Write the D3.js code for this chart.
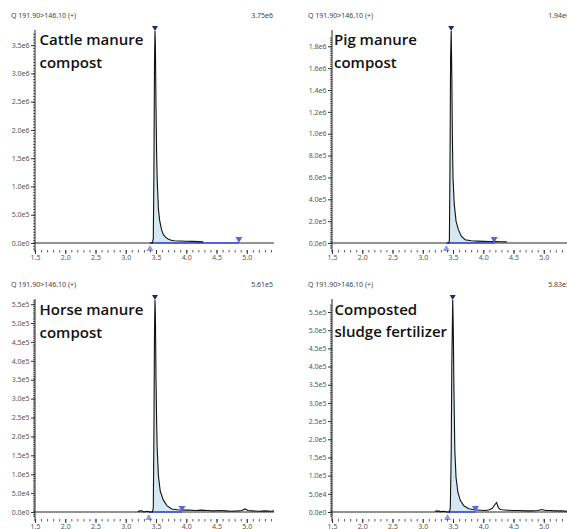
<!DOCTYPE html>
<html><head><meta charset="utf-8">
<script src="https://cdn.jsdelivr.net/npm/d3@7"></script>
<style>
html,body{margin:0;padding:0;background:#fff;}
svg{display:block;font-family:"Noto Sans",sans-serif;}
</style></head>
<body>
<svg id="c" width="567" height="529"></svg>
<script>
// ---- data ----
const panelNames = ["Cattle manure|compost", "Pig manure|compost", "Horse manure|compost", "Composted|sludge fertilizer"];
const headerText = "Q 191.90>146.10 (+)";
const maxLabels = ["3.75e6", "1.94e6", "5.61e5", "5.83e5"];
const maxValues = [3.75e6, 1.94e6, 5.61e5, 5.83e5];
const yTicks1 = [0, 5e5, 1e6, 1.5e6, 2e6, 2.5e6, 3e6, 3.5e6];
const yTicks2 = [0, 2e5, 4e5, 6e5, 8e5, 1e6, 1.2e6, 1.4e6, 1.6e6, 1.8e6];
const yTicks3 = [0, 5e4, 1e5, 1.5e5, 2e5, 2.5e5, 3e5, 3.5e5, 4e5, 4.5e5, 5e5, 5.5e5];
const yTicks4 = [0, 5e4, 1e5, 1.5e5, 2e5, 2.5e5, 3e5, 3.5e5, 4e5, 4.5e5, 5e5, 5.5e5];
const xTicks = [1.5, 2.0, 2.5, 3.0, 3.5, 4.0, 4.5, 5.0];

const cattleTime = [3.40, 3.44, 3.455, 3.465, 3.475, 3.483, 3.49, 3.50, 3.51, 3.52, 3.54, 3.56, 3.59, 3.62, 3.66, 3.70, 3.75, 3.80, 3.90, 4.00, 4.10, 4.20, 4.28];
const cattleInt = [0, 0, 0.08e6, 1.2e6, 3.2e6, 3.75e6, 3.5e6, 2.4e6, 1.6e6, 1.1e6, 0.6e6, 0.4e6, 0.24e6, 0.15e6, 0.1e6, 0.07e6, 0.05e6, 0.04e6, 0.035e6, 0.03e6, 0.028e6, 0.025e6, 0.02e6];

const pigTime = [3.40, 3.43, 3.44, 3.45, 3.46, 3.47, 3.48, 3.49, 3.50, 3.52, 3.55, 3.59, 3.64, 3.70, 3.80, 3.90, 4.00, 4.10, 4.20, 4.30, 4.39];
const pigInt = [0, 0, 0.02e6, 0.7e6, 1.7e6, 1.94e6, 1.55e6, 0.95e6, 0.6e6, 0.36e6, 0.2e6, 0.12e6, 0.06e6, 0.03e6, 0.02e6, 0.017e6, 0.015e6, 0.014e6, 0.013e6, 0.012e6, 0.01e6];

const horseTime = [3.20, 3.25, 3.30, 3.35, 3.40, 3.44, 3.455, 3.465, 3.475, 3.483, 3.49, 3.50, 3.51, 3.52, 3.54, 3.57, 3.62, 3.68, 3.76, 3.85, 3.95, 4.05, 4.15, 4.25, 4.35, 4.45, 4.55, 4.65, 4.75, 4.85, 4.92, 4.97, 5.02, 5.10, 5.20, 5.30, 5.40, 5.45];
const horseInt = [1e3, 4e3, 0, 2e3, 0, 0, 1e4, 2.0e5, 4.8e5, 5.61e5, 5.2e5, 3.5e5, 2.4e5, 1.65e5, 0.95e5, 0.55e5, 0.32e5, 0.17e5, 0.8e4, 0.6e4, 0.5e4, 0.5e4, 0.4e4, 0.5e4, 0.4e4, 0.3e4, 0.4e4, 0.3e4, 0.2e4, 0.3e4, 0.4e4, 0.8e4, 0.4e4, 0.3e4, 0.2e4, 0.3e4, 0.2e4, 0.3e4];

const sludgeTime = [3.20, 3.25, 3.30, 3.35, 3.40, 3.44, 3.455, 3.47, 3.48, 3.495, 3.505, 3.515, 3.53, 3.55, 3.58, 3.62, 3.68, 3.76, 3.85, 3.95, 4.05, 4.10, 4.15, 4.19, 4.22, 4.25, 4.28, 4.32, 4.40, 4.50, 4.60, 4.70, 4.80, 4.90, 4.97, 5.03, 5.10, 5.20, 5.30, 5.40, 5.45];
const sludgeInt = [2e3, 3e3, 1e3, 2e3, 0, 0, 1e4, 1.6e5, 4.0e5, 5.83e5, 5.0e5, 3.4e5, 1.7e5, 0.95e5, 0.55e5, 0.32e5, 0.17e5, 0.9e4, 0.6e4, 0.5e4, 0.4e4, 0.6e4, 1.0e4, 2.0e4, 2.6e4, 1.2e4, 0.7e4, 0.6e4, 0.5e4, 0.4e4, 0.4e4, 0.3e4, 0.3e4, 0.4e4, 0.7e4, 0.4e4, 0.4e4, 0.3e4, 0.3e4, 0.2e4, 0.3e4];

const peakStart = [3.40, 3.39, 3.38, 3.41];
const peakEnd = [4.87, 4.18, 3.93, 3.87];

// ---- layout ----
const times = [cattleTime, pigTime, horseTime, sludgeTime];
const ints = [cattleInt, pigInt, horseInt, sludgeInt];
const yTickSets = [yTicks1, yTicks2, yTicks3, yTicks4];
const offX = [0, 297, 0, 297], offY = [0, 0, 269, 269];
const labelX = [39.5, 37, 39.5, 37.5];
const labelY = [45, 45, 46, 45.5];

const svg = d3.select("#c");
const fmt = v => v.toExponential(1).replace("+", "");

for (let p = 0; p < 4; p++) {
  const g = svg.append("g").attr("transform", `translate(${offX[p]},${offY[p]})`);
  const x = d3.scaleLinear().domain([1.5, 5.45]).range([35, 274]);
  const y = d3.scaleLinear().domain([0, maxValues[p]]).range([243, 31]);
  const data = times[p].map((t, i) => ({t, v: ints[p][i]}));

  // header
  g.append("text").attr("x", 11).attr("y", 18).attr("font-size", 7).attr("fill", "#444").text(headerText);
  g.append("text").attr("x", 273).attr("y", 18).attr("font-size", 7).attr("fill", "#444").attr("text-anchor", "end").text(maxLabels[p]);

  // fill area
  const s = peakStart[p], e = peakEnd[p];
  const fillData = data.filter(d => d.t >= s && d.t <= e);
  const lastT = fillData[fillData.length - 1].t;
  if (lastT < e) fillData.push({t: e, v: 0});
  fillData.unshift({t: s, v: 0});
  g.append("path").datum(fillData)
    .attr("d", d3.area().x(d => x(d.t)).y0(y(0)).y1(d => y(d.v)))
    .attr("fill", "#d3e8f1");

  // zero line
  g.append("line").attr("x1", 33).attr("x2", x(5.45)).attr("y1", y(0)).attr("y2", y(0))
    .attr("stroke", "#6e6e6e").attr("stroke-width", 1.5);

  // integration baseline
  g.append("line").attr("x1", x(s)).attr("x2", x(e)).attr("y1", y(0)).attr("y2", y(0))
    .attr("stroke", "#3f55e6").attr("stroke-width", 1.5);

  // trace
  g.append("path").datum(data)
    .attr("d", d3.line().x(d => x(d.t)).y(d => y(d.v)))
    .attr("fill", "none").attr("stroke", "#111").attr("stroke-width", 1.1);

  // markers
  const apexIdx = d3.maxIndex(data, d => d.v);
  const ax = x(data[apexIdx].t), ay = y(data[apexIdx].v);
  g.append("path").attr("d", `M${ax-3},${ay-5}L${ax+3},${ay-5}L${ax},${ay}Z`).attr("fill", "#1d2a6e");
  const sx = x(s), ex = x(e), by = y(0);
  g.append("path").attr("d", `M${sx-3.5},${by+8}L${sx+3.5},${by+8}L${sx},${by+2}Z`).attr("fill", "#8e9cf2");
  g.append("path").attr("d", `M${ex-3.5},${by-6}L${ex+3.5},${by-6}L${ex},${by}Z`).attr("fill", "#5468e6");

  // y axis
  const yt = yTickSets[p];
  const step = yt[1] - yt[0];
  const minor = d3.range(-step * 0.2 + 1e-9, yt[yt.length - 1] + step * 0.5, step / 10)
    .filter(v => y(v) >= 31 && y(v) <= 252);
  const yMinor = g.append("g").attr("transform", "translate(35,0)")
    .call(d3.axisLeft(y).tickValues(minor).tickSize(2).tickFormat(""));
  yMinor.select(".domain").remove();
  yMinor.selectAll("line").attr("stroke", "#333").attr("stroke-width", 0.8);
  const yMajor = g.append("g").attr("transform", "translate(35,0)")
    .call(d3.axisLeft(y).tickValues(yt).tickSize(4).tickPadding(1.5).tickFormat(fmt));
  yMajor.select(".domain").remove();
  yMajor.selectAll("line").attr("stroke", "#333");
  yMajor.selectAll("text").attr("font-size", 7).attr("fill", "#555").attr("font-family", "Noto Sans");
  g.append("line").attr("x1", 35).attr("x2", 35).attr("y1", 30).attr("y2", 252)
    .attr("stroke", "#222").attr("stroke-width", 1);

  // x axis
  const xMinor = g.append("g").attr("transform", "translate(0,250)")
    .call(d3.axisBottom(x).tickValues(d3.range(15, 55).map(v => v / 10)).tickSize(2.5).tickFormat(""));
  xMinor.select(".domain").remove();
  xMinor.selectAll("line").attr("stroke", "#333").attr("stroke-width", 0.8);
  const xMajor = g.append("g").attr("transform", "translate(0,250)")
    .call(d3.axisBottom(x).tickValues(xTicks).tickSize(4).tickPadding(1.5).tickFormat(d3.format(".1f")));
  xMajor.select(".domain").remove();
  xMajor.selectAll("line").attr("stroke", "#333");
  xMajor.selectAll("text").attr("font-size", 7).attr("fill", "#555").attr("font-family", "Noto Sans");

  // label
  const lines = panelNames[p].split("|");
  lines.forEach((ln, i) => {
    g.append("text").attr("x", labelX[p]).attr("y", labelY[p] + i * 22.5)
      .attr("font-family", "Open Sans")
      .attr("font-size", 15).attr("font-weight", 600).attr("fill", "#111").text(ln);
  });
}
</script>
</body></html>
